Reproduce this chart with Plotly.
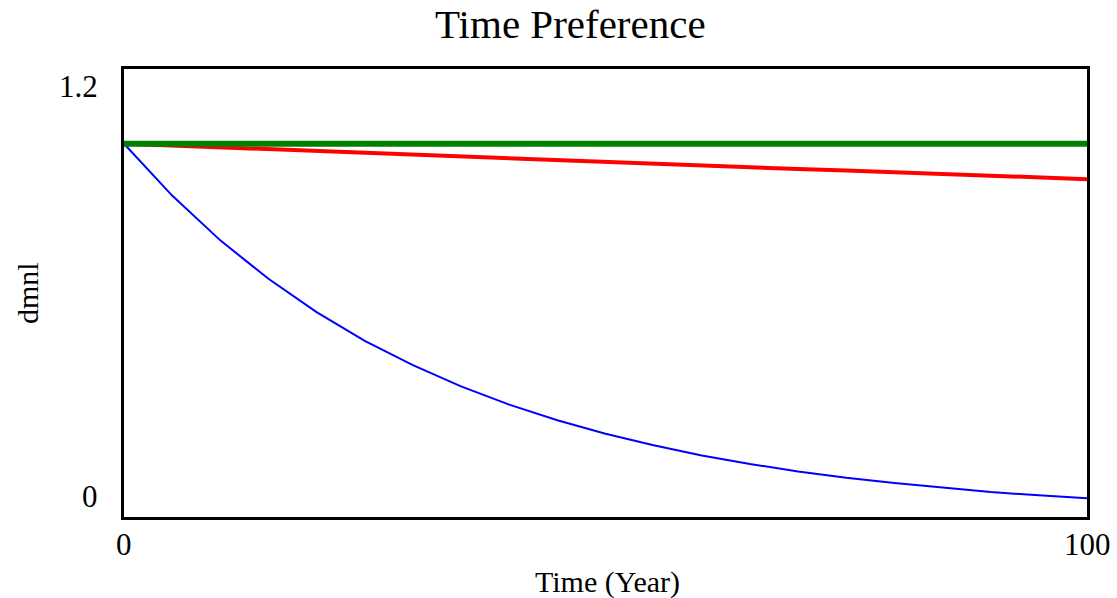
import plotly.graph_objects as go

years = [0, 5, 10, 15, 20, 25, 30, 35, 40, 45, 50, 55, 60, 65, 70, 75, 80, 85, 90, 95, 100]
constant_pref = [1.0] * 21
low_discount = [1.0, 0.995, 0.990, 0.985, 0.980, 0.975, 0.970, 0.966, 0.961, 0.956, 0.951,
                0.946, 0.942, 0.937, 0.932, 0.928, 0.923, 0.918, 0.914, 0.909, 0.905]
high_discount = [1.0, 0.861, 0.741, 0.638, 0.549, 0.472, 0.407, 0.350, 0.301, 0.259, 0.223,
                 0.192, 0.165, 0.142, 0.122, 0.105, 0.091, 0.078, 0.067, 0.058, 0.050]

FONT = "Liberation Serif"

fig = go.Figure()
fig.add_trace(go.Scatter(x=years, y=high_discount, mode="lines",
                         line=dict(color="#0000ff", width=2), showlegend=False))
fig.add_trace(go.Scatter(x=years, y=low_discount, mode="lines",
                         line=dict(color="#ff0000", width=4), showlegend=False))
fig.add_trace(go.Scatter(x=years, y=constant_pref, mode="lines",
                         line=dict(color="#008000", width=6), showlegend=False))

fig.update_layout(
    width=1117, height=598,
    margin=dict(l=124, r=30, t=69, b=81),
    paper_bgcolor="white", plot_bgcolor="white",
    font=dict(family=FONT, color="black", size=30),
    xaxis=dict(range=[0, 100], showgrid=False, zeroline=False, showticklabels=False,
               ticks="", showline=True, mirror=True, linecolor="black", linewidth=3),
    yaxis=dict(range=[0, 1.2], showgrid=False, zeroline=False, showticklabels=False,
               ticks="", showline=True, mirror=True, linecolor="black", linewidth=3),
)

ann = []
# title
ann.append(dict(text="Time Preference", xref="paper", yref="paper", x=0.464, y=1,
                xanchor="center", yanchor="middle", yshift=45, showarrow=False,
                font=dict(family=FONT, size=41, color="black")))
# y tick labels
ann.append(dict(text="1.2", xref="paper", yref="y", x=0, y=1.2, xanchor="right",
                yanchor="middle", xshift=-24, yshift=-17, showarrow=False,
                font=dict(size=31)))
ann.append(dict(text="0", xref="paper", yref="y", x=0, y=0, xanchor="right",
                yanchor="middle", xshift=-24, yshift=21, showarrow=False,
                font=dict(size=31)))
# x tick labels
ann.append(dict(text="0", xref="x", yref="paper", x=0, y=0, xanchor="center",
                yanchor="middle", yshift=-27, showarrow=False, font=dict(size=31)))
ann.append(dict(text="100", xref="x", yref="paper", x=100, y=0, xanchor="center",
                yanchor="middle", yshift=-27, showarrow=False, font=dict(size=31)))
# axis titles
ann.append(dict(text="Time (Year)", xref="paper", yref="paper", x=0.502, y=0,
                xanchor="center", yanchor="middle", yshift=-65, showarrow=False))
ann.append(dict(text="dmnl", xref="paper", yref="paper", x=0, y=0.5, textangle=-90,
                xanchor="center", yanchor="middle", xshift=-97, showarrow=False))
fig.update_layout(annotations=ann)

fig.write_html("out.html", config={"displayModeBar": False},
               post_script="document.body.style.margin='0';document.body.style.overflow='hidden';")
